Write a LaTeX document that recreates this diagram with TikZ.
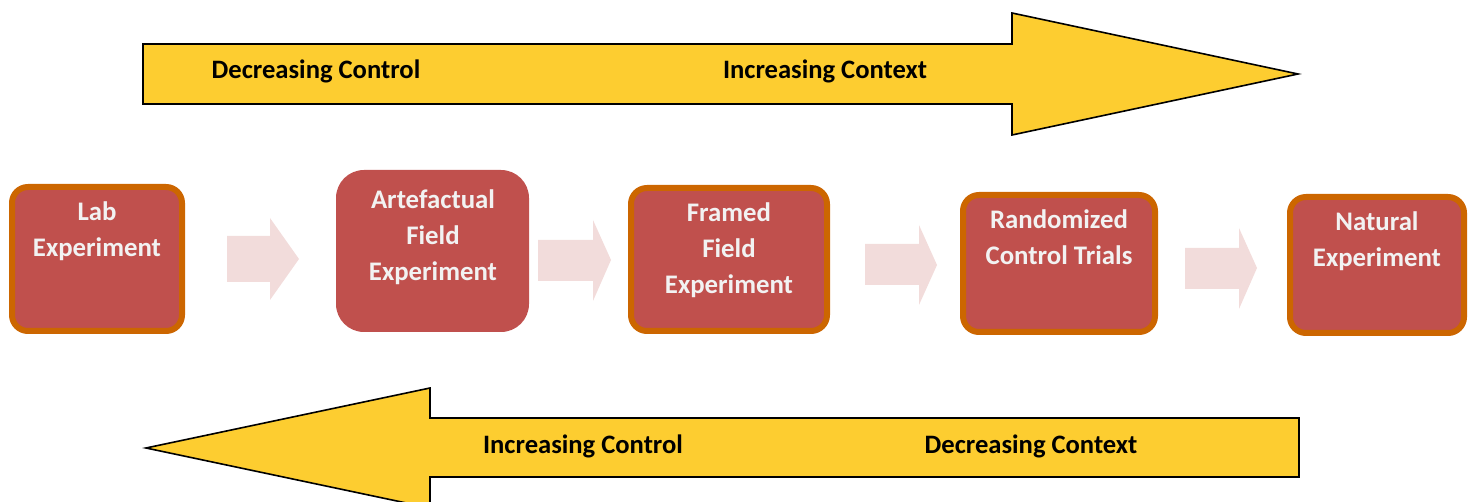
\documentclass[tikz,border=0pt]{standalone}
\usepackage{fontspec}
\setmainfont{Carlito}
\definecolor{ayellow}{HTML}{FDCD30}
\definecolor{boxred}{HTML}{C0504D}
\definecolor{boxorange}{HTML}{CC6600}
\definecolor{palepink}{HTML}{F2DCDB}
\definecolor{boxtext}{HTML}{F2F2F2}
\tikzset{
  bigarrow/.style={fill=ayellow, draw=black, line width=1.6pt, line join=miter},
  arrowtext/.style={font=\fontsize{26.6}{30}\selectfont\bfseries, text=black, anchor=base, inner sep=0pt},
  framedbox/.style={rectangle, draw=boxorange, fill=boxred, line width=6pt, rounded corners=16pt},
  plainbox/.style={rectangle, fill=boxred, rounded corners=28pt},
  boxlabel/.style={font=\fontsize{26.8}{35.8}\selectfont\bfseries, text=boxtext, align=center, anchor=north, inner sep=0pt},
  smallarrow/.style={fill=palepink, draw=none}
}
\begin{document}
\begin{tikzpicture}[x=1pt,y=-1pt]
\useasboundingbox (0,0) rectangle (1476,502);
% top arrow
\draw[bigarrow] (143,44) -- (1012,44) -- (1012,13) -- (1298,74) -- (1012,135) -- (1012,104) -- (143,104) -- cycle;
\node[arrowtext] (dcontrol) at (316,79) {Decreasing Control};
\node[arrowtext] (icontext) at (825,79) {Increasing Context};
% bottom arrow
\draw[bigarrow] (1299,418) -- (430,418) -- (430,388) -- (146,448) -- (430,508) -- (430,477) -- (1299,477) -- cycle;
\node[arrowtext] (icontrol) at (583,453.5) {Increasing Control};
\node[arrowtext] (dcontext) at (1031,453.5) {Decreasing Context};
% boxes
\node[framedbox, minimum width=170pt, minimum height=144pt] (lab) at (97,259) {};
\node[plainbox, minimum width=193pt, minimum height=162pt] (art) at (432.5,251) {};
\node[framedbox, minimum width=196pt, minimum height=143pt] (framed) at (729,259.5) {};
\node[framedbox, minimum width=192pt, minimum height=137pt] (rct) at (1059,263.5) {};
\node[framedbox, minimum width=174pt, minimum height=136pt] (nat) at (1377,265) {};
% labels
\node[boxlabel] (labt) at (97,201.5) {Lab\\Experiment};
\node[boxlabel] (artt) at (433,189.5) {Artefactual\\Field\\Experiment};
\node[boxlabel] (framedt) at (729,202.5) {Framed\\Field\\Experiment};
\node[boxlabel] (rctt) at (1059,209.5) {Randomized\\Control Trials};
\node[boxlabel] (natt) at (1377,211.5) {Natural\\Experiment};
% small block arrows
\fill[smallarrow] (227,236) -- (270,236) -- (270,218) -- (299,259) -- (270,300) -- (270,282) -- (227,282) -- cycle;
\fill[smallarrow] (538,240) -- (593,240) -- (593,220) -- (611,260) -- (593,301) -- (593,281) -- (538,281) -- cycle;
\fill[smallarrow] (865,244) -- (919,244) -- (919,225) -- (937,265) -- (919,305) -- (919,285) -- (865,285) -- cycle;
\fill[smallarrow] (1185,248) -- (1239,248) -- (1239,228) -- (1257,268) -- (1239,309) -- (1239,289) -- (1185,289) -- cycle;
\end{tikzpicture}
\end{document}
